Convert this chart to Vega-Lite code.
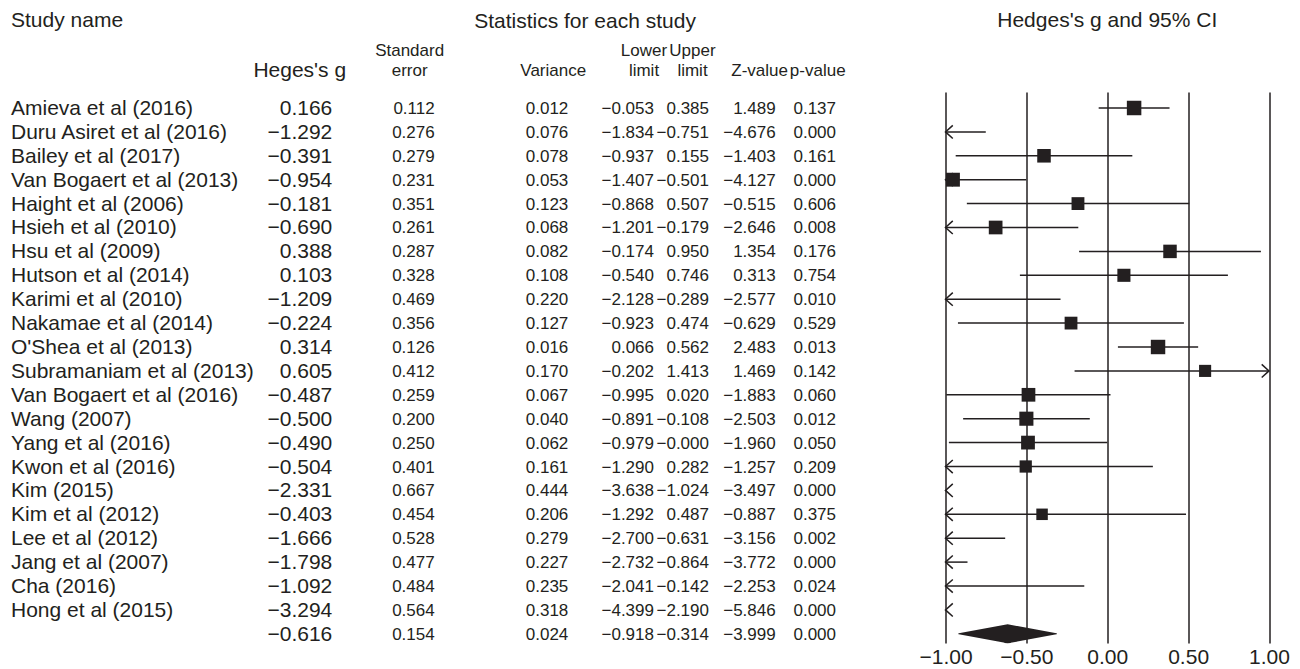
{
  "$schema": "https://vega.github.io/schema/vega-lite/v6.json",
  "background": "white",
  "padding": {"left": 11, "top": 10, "right": 0, "bottom": 0},
  "datasets": {
    "studies": [
      {"study": "Amieva et al (2016)", "type": "study", "g": 0.166, "se": 0.112, "var": 0.012, "lower": -0.053, "upper": 0.385, "z": 1.489, "p": 0.137},
      {"study": "Duru Asiret et al (2016)", "type": "study", "g": -1.292, "se": 0.276, "var": 0.076, "lower": -1.834, "upper": -0.751, "z": -4.676, "p": 0.000},
      {"study": "Bailey et al (2017)", "type": "study", "g": -0.391, "se": 0.279, "var": 0.078, "lower": -0.937, "upper": 0.155, "z": -1.403, "p": 0.161},
      {"study": "Van Bogaert et al (2013)", "type": "study", "g": -0.954, "se": 0.231, "var": 0.053, "lower": -1.407, "upper": -0.501, "z": -4.127, "p": 0.000},
      {"study": "Haight et al (2006)", "type": "study", "g": -0.181, "se": 0.351, "var": 0.123, "lower": -0.868, "upper": 0.507, "z": -0.515, "p": 0.606},
      {"study": "Hsieh et al (2010)", "type": "study", "g": -0.690, "se": 0.261, "var": 0.068, "lower": -1.201, "upper": -0.179, "z": -2.646, "p": 0.008},
      {"study": "Hsu et al (2009)", "type": "study", "g": 0.388, "se": 0.287, "var": 0.082, "lower": -0.174, "upper": 0.950, "z": 1.354, "p": 0.176},
      {"study": "Hutson et al (2014)", "type": "study", "g": 0.103, "se": 0.328, "var": 0.108, "lower": -0.540, "upper": 0.746, "z": 0.313, "p": 0.754},
      {"study": "Karimi et al (2010)", "type": "study", "g": -1.209, "se": 0.469, "var": 0.220, "lower": -2.128, "upper": -0.289, "z": -2.577, "p": 0.010},
      {"study": "Nakamae et al (2014)", "type": "study", "g": -0.224, "se": 0.356, "var": 0.127, "lower": -0.923, "upper": 0.474, "z": -0.629, "p": 0.529},
      {"study": "O'Shea et al (2013)", "type": "study", "g": 0.314, "se": 0.126, "var": 0.016, "lower": 0.066, "upper": 0.562, "z": 2.483, "p": 0.013},
      {"study": "Subramaniam et al (2013)", "type": "study", "g": 0.605, "se": 0.412, "var": 0.170, "lower": -0.202, "upper": 1.413, "z": 1.469, "p": 0.142},
      {"study": "Van Bogaert et al (2016)", "type": "study", "g": -0.487, "se": 0.259, "var": 0.067, "lower": -0.995, "upper": 0.020, "z": -1.883, "p": 0.060},
      {"study": "Wang (2007)", "type": "study", "g": -0.500, "se": 0.200, "var": 0.040, "lower": -0.891, "upper": -0.108, "z": -2.503, "p": 0.012},
      {"study": "Yang et al (2016)", "type": "study", "g": -0.490, "se": 0.250, "var": 0.062, "lower": -0.979, "upper": -0.0, "z": -1.960, "p": 0.050},
      {"study": "Kwon et al (2016)", "type": "study", "g": -0.504, "se": 0.401, "var": 0.161, "lower": -1.290, "upper": 0.282, "z": -1.257, "p": 0.209},
      {"study": "Kim (2015)", "type": "study", "g": -2.331, "se": 0.667, "var": 0.444, "lower": -3.638, "upper": -1.024, "z": -3.497, "p": 0.000},
      {"study": "Kim et al (2012)", "type": "study", "g": -0.403, "se": 0.454, "var": 0.206, "lower": -1.292, "upper": 0.487, "z": -0.887, "p": 0.375},
      {"study": "Lee et al (2012)", "type": "study", "g": -1.666, "se": 0.528, "var": 0.279, "lower": -2.700, "upper": -0.631, "z": -3.156, "p": 0.002},
      {"study": "Jang et al (2007)", "type": "study", "g": -1.798, "se": 0.477, "var": 0.227, "lower": -2.732, "upper": -0.864, "z": -3.772, "p": 0.000},
      {"study": "Cha (2016)", "type": "study", "g": -1.092, "se": 0.484, "var": 0.235, "lower": -2.041, "upper": -0.142, "z": -2.253, "p": 0.024},
      {"study": "Hong et al (2015)", "type": "study", "g": -3.294, "se": 0.564, "var": 0.318, "lower": -4.399, "upper": -2.190, "z": -5.846, "p": 0.000},
      {"study": "", "type": "summary", "g": -0.616, "se": 0.154, "var": 0.024, "lower": -0.918, "upper": -0.314, "z": -3.999, "p": 0.000}
    ]
  },
  "config": {
    "view": {"stroke": null},
    "font": "Liberation Sans",
    "text": {"font": "Liberation Sans", "fontSize": 21, "color": "#231f20"},
    "title": {"font": "Liberation Sans", "fontSize": 21, "fontWeight": "normal", "color": "#231f20", "frame": "group", "lineHeight": 20, "subtitleFont": "Liberation Sans"},
    "axis": {"labelFont": "Liberation Sans", "labelFontSize": 21, "labelColor": "#231f20", "titleFont": "Liberation Sans"},
    "concat": {"spacing": 0}
  },
  "bounds": "flush",
  "spacing": 934.5,
  "hconcat": [
    {
      "bounds": "flush",
      "spacing": 0,
      "hconcat": [
        {
          "width": 241, "height": 551,
          "data": {"name": "studies"},
          "title": {"text": "Study name", "anchor": "start", "offset": 61},
          "mark": {"type": "text", "align": "left", "baseline": "middle", "dy": 1},
          "encoding": {
            "y": {"field": "study", "type": "nominal", "sort": null, "axis": null, "scale": {"type": "point", "domain": ["Amieva et al (2016)", "Duru Asiret et al (2016)", "Bailey et al (2017)", "Van Bogaert et al (2013)", "Haight et al (2006)", "Hsieh et al (2010)", "Hsu et al (2009)", "Hutson et al (2014)", "Karimi et al (2010)", "Nakamae et al (2014)", "O'Shea et al (2013)", "Subramaniam et al (2013)", "Van Bogaert et al (2016)", "Wang (2007)", "Yang et al (2016)", "Kwon et al (2016)", "Kim (2015)", "Kim et al (2012)", "Lee et al (2012)", "Jang et al (2007)", "Cha (2016)", "Hong et al (2015)", ""], "padding": 0.527, "align": 0.635}},
            "x": {"value": 0},
            "text": {"field": "study", "type": "nominal"}
          }
        },
        {
          "bounds": "flush",
          "spacing": 0,
          "title": {"text": "Statistics for each study", "anchor": "middle", "dx": 333, "offset": 10},
          "hconcat": [
            {
              "width": 80.3, "height": 551,
              "data": {"name": "studies"},
              "title": {"text": "Heges's g", "anchor": "middle", "dx": 7.6, "offset": 11},
              "mark": {"type": "text", "align": "right", "baseline": "middle", "dy": 1},
              "encoding": {
                "y": {"field": "study", "type": "nominal", "sort": null, "axis": null, "scale": {"type": "point", "domain": ["Amieva et al (2016)", "Duru Asiret et al (2016)", "Bailey et al (2017)", "Van Bogaert et al (2013)", "Haight et al (2006)", "Hsieh et al (2010)", "Hsu et al (2009)", "Hutson et al (2014)", "Karimi et al (2010)", "Nakamae et al (2014)", "O'Shea et al (2013)", "Subramaniam et al (2013)", "Van Bogaert et al (2016)", "Wang (2007)", "Yang et al (2016)", "Kwon et al (2016)", "Kim (2015)", "Kim et al (2012)", "Lee et al (2012)", "Jang et al (2007)", "Cha (2016)", "Hong et al (2015)", ""], "padding": 0.527, "align": 0.635}},
                "x": {"value": "width"},
                "text": {"field": "g", "type": "quantitative", "format": ".3f"}
              }
            },
            {
              "width": 101.7, "height": 551,
              "data": {"name": "studies"},
              "title": {"text": ["Standard", "error"], "anchor": "middle", "dx": 25.8, "offset": 12, "fontSize": 17},
              "mark": {"type": "text", "align": "right", "baseline": "middle", "dy": 1, "fontSize": 17},
              "encoding": {
                "y": {"field": "study", "type": "nominal", "sort": null, "axis": null, "scale": {"type": "point", "domain": ["Amieva et al (2016)", "Duru Asiret et al (2016)", "Bailey et al (2017)", "Van Bogaert et al (2013)", "Haight et al (2006)", "Hsieh et al (2010)", "Hsu et al (2009)", "Hutson et al (2014)", "Karimi et al (2010)", "Nakamae et al (2014)", "O'Shea et al (2013)", "Subramaniam et al (2013)", "Van Bogaert et al (2016)", "Wang (2007)", "Yang et al (2016)", "Kwon et al (2016)", "Kim (2015)", "Kim et al (2012)", "Lee et al (2012)", "Jang et al (2007)", "Cha (2016)", "Hong et al (2015)", ""], "padding": 0.527, "align": 0.635}},
                "x": {"value": "width"},
                "text": {"field": "se", "type": "quantitative", "format": ".3f"}
              }
            },
            {
              "width": 133.3, "height": 551,
              "data": {"name": "studies"},
              "title": {"text": "Variance", "anchor": "middle", "dx": 51.6, "offset": 12, "fontSize": 17},
              "mark": {"type": "text", "align": "right", "baseline": "middle", "dy": 1, "fontSize": 17},
              "encoding": {
                "y": {"field": "study", "type": "nominal", "sort": null, "axis": null, "scale": {"type": "point", "domain": ["Amieva et al (2016)", "Duru Asiret et al (2016)", "Bailey et al (2017)", "Van Bogaert et al (2013)", "Haight et al (2006)", "Hsieh et al (2010)", "Hsu et al (2009)", "Hutson et al (2014)", "Karimi et al (2010)", "Nakamae et al (2014)", "O'Shea et al (2013)", "Subramaniam et al (2013)", "Van Bogaert et al (2016)", "Wang (2007)", "Yang et al (2016)", "Kwon et al (2016)", "Kim (2015)", "Kim et al (2012)", "Lee et al (2012)", "Jang et al (2007)", "Cha (2016)", "Hong et al (2015)", ""], "padding": 0.527, "align": 0.635}},
                "x": {"value": "width"},
                "text": {"field": "var", "type": "quantitative", "format": ".3f"}
              }
            },
            {
              "width": 85, "height": 551,
              "data": {"name": "studies"},
              "title": {"text": ["Lower", "limit"], "anchor": "middle", "dx": 32.5, "offset": 12, "fontSize": 17},
              "mark": {"type": "text", "align": "right", "baseline": "middle", "dy": 1, "fontSize": 17},
              "encoding": {
                "y": {"field": "study", "type": "nominal", "sort": null, "axis": null, "scale": {"type": "point", "domain": ["Amieva et al (2016)", "Duru Asiret et al (2016)", "Bailey et al (2017)", "Van Bogaert et al (2013)", "Haight et al (2006)", "Hsieh et al (2010)", "Hsu et al (2009)", "Hutson et al (2014)", "Karimi et al (2010)", "Nakamae et al (2014)", "O'Shea et al (2013)", "Subramaniam et al (2013)", "Van Bogaert et al (2016)", "Wang (2007)", "Yang et al (2016)", "Kwon et al (2016)", "Kim (2015)", "Kim et al (2012)", "Lee et al (2012)", "Jang et al (2007)", "Cha (2016)", "Hong et al (2015)", ""], "padding": 0.527, "align": 0.635}},
                "x": {"value": "width"},
                "text": {"field": "lower", "type": "quantitative", "format": ".3f"}
              }
            },
            {
              "width": 55, "height": 551,
              "data": {"name": "studies"},
              "title": {"text": ["Upper", "limit"], "anchor": "middle", "dx": 11, "offset": 12, "fontSize": 17},
              "transform": [{"calculate": "(datum.upper < 0 || 1 / datum.upper < 0 ? '−' : '') + format(abs(datum.upper), '.3f')", "as": "upper_text"}],
              "mark": {"type": "text", "align": "right", "baseline": "middle", "dy": 1, "fontSize": 17},
              "encoding": {
                "y": {"field": "study", "type": "nominal", "sort": null, "axis": null, "scale": {"type": "point", "domain": ["Amieva et al (2016)", "Duru Asiret et al (2016)", "Bailey et al (2017)", "Van Bogaert et al (2013)", "Haight et al (2006)", "Hsieh et al (2010)", "Hsu et al (2009)", "Hutson et al (2014)", "Karimi et al (2010)", "Nakamae et al (2014)", "O'Shea et al (2013)", "Subramaniam et al (2013)", "Van Bogaert et al (2016)", "Wang (2007)", "Yang et al (2016)", "Kwon et al (2016)", "Kim (2015)", "Kim et al (2012)", "Lee et al (2012)", "Jang et al (2007)", "Cha (2016)", "Hong et al (2015)", ""], "padding": 0.527, "align": 0.635}},
                "x": {"value": "width"},
                "text": {"field": "upper_text", "type": "nominal"}
              }
            },
            {
              "width": 66.7, "height": 551,
              "data": {"name": "studies"},
              "title": {"text": "Z-value", "anchor": "middle", "dx": 17.3, "offset": 12, "fontSize": 17},
              "mark": {"type": "text", "align": "right", "baseline": "middle", "dy": 1, "fontSize": 17},
              "encoding": {
                "y": {"field": "study", "type": "nominal", "sort": null, "axis": null, "scale": {"type": "point", "domain": ["Amieva et al (2016)", "Duru Asiret et al (2016)", "Bailey et al (2017)", "Van Bogaert et al (2013)", "Haight et al (2006)", "Hsieh et al (2010)", "Hsu et al (2009)", "Hutson et al (2014)", "Karimi et al (2010)", "Nakamae et al (2014)", "O'Shea et al (2013)", "Subramaniam et al (2013)", "Van Bogaert et al (2016)", "Wang (2007)", "Yang et al (2016)", "Kwon et al (2016)", "Kim (2015)", "Kim et al (2012)", "Lee et al (2012)", "Jang et al (2007)", "Cha (2016)", "Hong et al (2015)", ""], "padding": 0.527, "align": 0.635}},
                "x": {"value": "width"},
                "text": {"field": "z", "type": "quantitative", "format": ".3f"}
              }
            },
            {
              "width": 60, "height": 551,
              "data": {"name": "studies"},
              "title": {"text": "p-value", "anchor": "middle", "dx": 11.7, "offset": 12, "fontSize": 17},
              "mark": {"type": "text", "align": "right", "baseline": "middle", "dy": 1, "fontSize": 17},
              "encoding": {
                "y": {"field": "study", "type": "nominal", "sort": null, "axis": null, "scale": {"type": "point", "domain": ["Amieva et al (2016)", "Duru Asiret et al (2016)", "Bailey et al (2017)", "Van Bogaert et al (2013)", "Haight et al (2006)", "Hsieh et al (2010)", "Hsu et al (2009)", "Hutson et al (2014)", "Karimi et al (2010)", "Nakamae et al (2014)", "O'Shea et al (2013)", "Subramaniam et al (2013)", "Van Bogaert et al (2016)", "Wang (2007)", "Yang et al (2016)", "Kwon et al (2016)", "Kim (2015)", "Kim et al (2012)", "Lee et al (2012)", "Jang et al (2007)", "Cha (2016)", "Hong et al (2015)", ""], "padding": 0.527, "align": 0.635}},
                "x": {"value": "width"},
                "text": {"field": "p", "type": "quantitative", "format": ".3f"}
              }
            }
          ]
        }
      ]
    },
    {
      "width": 323.5, "height": 551,
      "data": {"name": "studies"},
      "title": {"text": "Hedges's g and 95% CI", "anchor": "middle", "offset": 61},
      "resolve": {"scale": {"size": "independent"}},
      "encoding": {
        "y": {"field": "study", "type": "nominal", "sort": null, "axis": null, "scale": {"type": "point", "domain": ["Amieva et al (2016)", "Duru Asiret et al (2016)", "Bailey et al (2017)", "Van Bogaert et al (2013)", "Haight et al (2006)", "Hsieh et al (2010)", "Hsu et al (2009)", "Hutson et al (2014)", "Karimi et al (2010)", "Nakamae et al (2014)", "O'Shea et al (2013)", "Subramaniam et al (2013)", "Van Bogaert et al (2016)", "Wang (2007)", "Yang et al (2016)", "Kwon et al (2016)", "Kim (2015)", "Kim et al (2012)", "Lee et al (2012)", "Jang et al (2007)", "Cha (2016)", "Hong et al (2015)", ""], "padding": 0.527, "align": 0.635}}
      },
      "layer": [
        {
          "transform": [{"filter": "datum.type === 'study'"}],
          "mark": {"type": "rule", "color": "#231f20", "strokeWidth": 1.5},
          "encoding": {
            "x": {"field": "lower", "type": "quantitative", "scale": {"domain": [-1, 1], "clamp": true, "nice": false, "zero": false},
                  "axis": {"values": [-1, -0.5, 0, 0.5, 1], "format": ".2f", "grid": true, "gridColor": "#231f20", "gridWidth": 1.5, "gridOpacity": 1, "domain": false, "ticks": false, "labelPadding": 3, "title": null, "labelFlush": false}},
            "x2": {"field": "upper"}
          }
        },
        {
          "transform": [{"filter": "datum.type === 'study' && datum.lower < -1"}],
          "mark": {"type": "point", "shape": "M1,-0.9L0,0L1,0.9", "size": 213, "filled": false, "color": "#231f20", "strokeWidth": 1.5, "opacity": 1},
          "encoding": {"x": {"field": "lower", "type": "quantitative"}}
        },
        {
          "transform": [{"filter": "datum.type === 'study' && datum.upper > 1"}],
          "mark": {"type": "point", "shape": "M-1,-0.9L0,0L-1,0.9", "size": 213, "filled": false, "color": "#231f20", "strokeWidth": 1.5, "opacity": 1},
          "encoding": {"x": {"field": "upper", "type": "quantitative"}}
        },
        {
          "transform": [{"filter": "datum.type === 'study' && datum.g >= -1"}],
          "mark": {"type": "square", "color": "#231f20", "opacity": 1},
          "encoding": {
            "x": {"field": "g", "type": "quantitative"},
            "size": {"field": "var", "type": "quantitative", "scale": {"domain": [0.012, 0.206], "range": [210, 132], "zero": false}, "legend": null}
          }
        },
        {
          "transform": [
            {"filter": "datum.type === 'summary'"},
            {"fold": ["lower", "g", "upper"], "as": ["key", "value"]}
          ],
          "mark": {"type": "trail", "color": "#231f20", "opacity": 1},
          "encoding": {
            "x": {"field": "value", "type": "quantitative"},
            "size": {"field": "value", "type": "quantitative", "scale": {"type": "threshold", "domain": [-0.9, -0.33], "range": [0, 19, 0]}, "legend": null}
          }
        }
      ]
    }
  ]
}
